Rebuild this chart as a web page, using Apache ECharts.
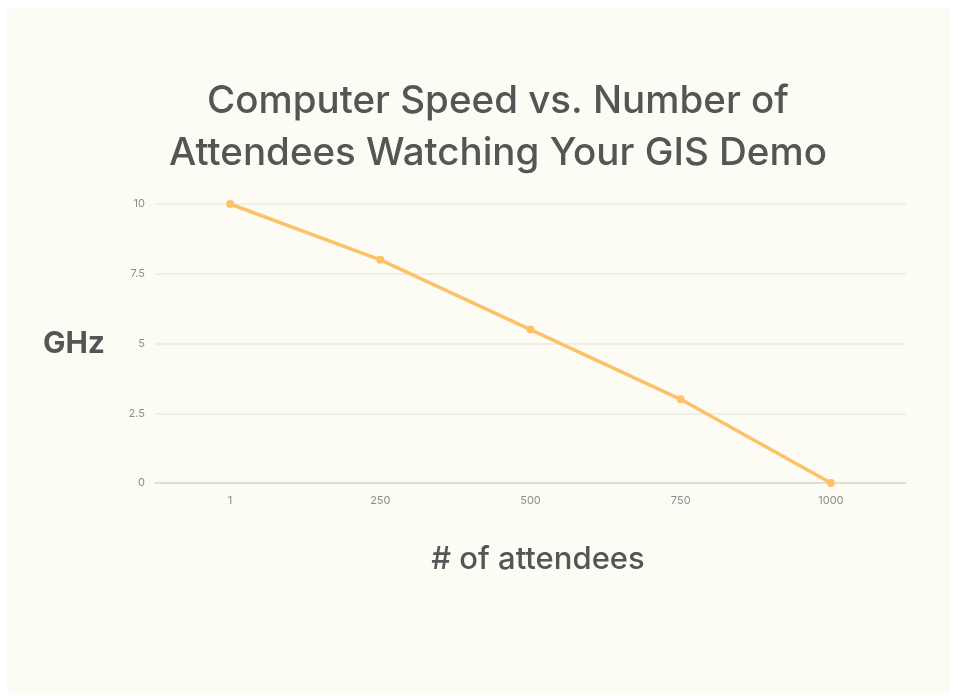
<!DOCTYPE html>
<html>
<head>
<meta charset="utf-8">
<script src="https://cdn.jsdelivr.net/npm/echarts@6/dist/echarts.min.js"></script>
<style>
html,body{margin:0;padding:0;background:#ffffff;}
#bg{position:absolute;left:7px;top:8px;width:943px;height:686px;background:#fcfcf4;}
#main{position:absolute;left:0;top:0;width:953px;height:696px;}
</style>
</head>
<body>
<div id="bg"></div>
<div id="main"></div>
<script>
const categories = ['1', '250', '500', '750', '1000'];
const ghzValues = [10, 8, 5.5, 3, 0];
const yTicks = [0, 2.5, 5, 7.5, 10];

const FONT = 'Inter, "Open Sans", Arial, sans-serif';
const chart = echarts.init(document.getElementById('main'), null, {renderer: 'canvas'});
chart.setOption({
  backgroundColor: 'transparent',
  animation: false,
  title: {
    text: 'Computer Speed vs. Number of\nAttendees Watching Your GIS Demo',
    left: 493,
    top: 70,
    textAlign: 'center',
    textStyle: {
      fontFamily: FONT,
      fontSize: 38.5,
      fontWeight: 500,
      color: '#555555',
      lineHeight: 52
    }
  },
  grid: {left: 155, right: 47, top: 204, bottom: 213},
  xAxis: {
    type: 'category',
    data: categories,
    boundaryGap: true,
    name: '# of attendees',
    nameLocation: 'middle',
    nameGap: 61,
    nameTextStyle: {
      fontFamily: FONT,
      fontSize: 31,
      fontWeight: 500,
      color: '#555555',
      padding: [0, 0, 0, 15]
    },
    axisLine: {lineStyle: {color: '#d9d9d4', width: 1.5}},
    axisTick: {show: false},
    axisLabel: {color: '#8c8c8c', fontSize: 11, margin: 12, fontFamily: FONT}
  },
  yAxis: {
    type: 'value',
    min: yTicks[0],
    max: yTicks[yTicks.length - 1],
    interval: 2.5,
    name: 'GHz',
    nameLocation: 'middle',
    nameRotate: 0,
    nameGap: 50,
    nameTextStyle: {
      fontFamily: FONT,
      fontSize: 30,
      fontWeight: 'bold',
      color: '#555555'
    },
    axisLine: {show: false},
    axisTick: {show: false},
    axisLabel: {color: '#8c8c8c', fontSize: 11, margin: 10, fontFamily: FONT},
    splitLine: {lineStyle: {color: '#ebebe4', width: 1.5}}
  },
  series: [{
    type: 'line',
    data: ghzValues,
    symbol: 'circle',
    symbolSize: 8,
    lineStyle: {color: '#fdc168', width: 3.5},
    itemStyle: {color: '#fdc168'}
  }]
});
</script>
</body>
</html>
